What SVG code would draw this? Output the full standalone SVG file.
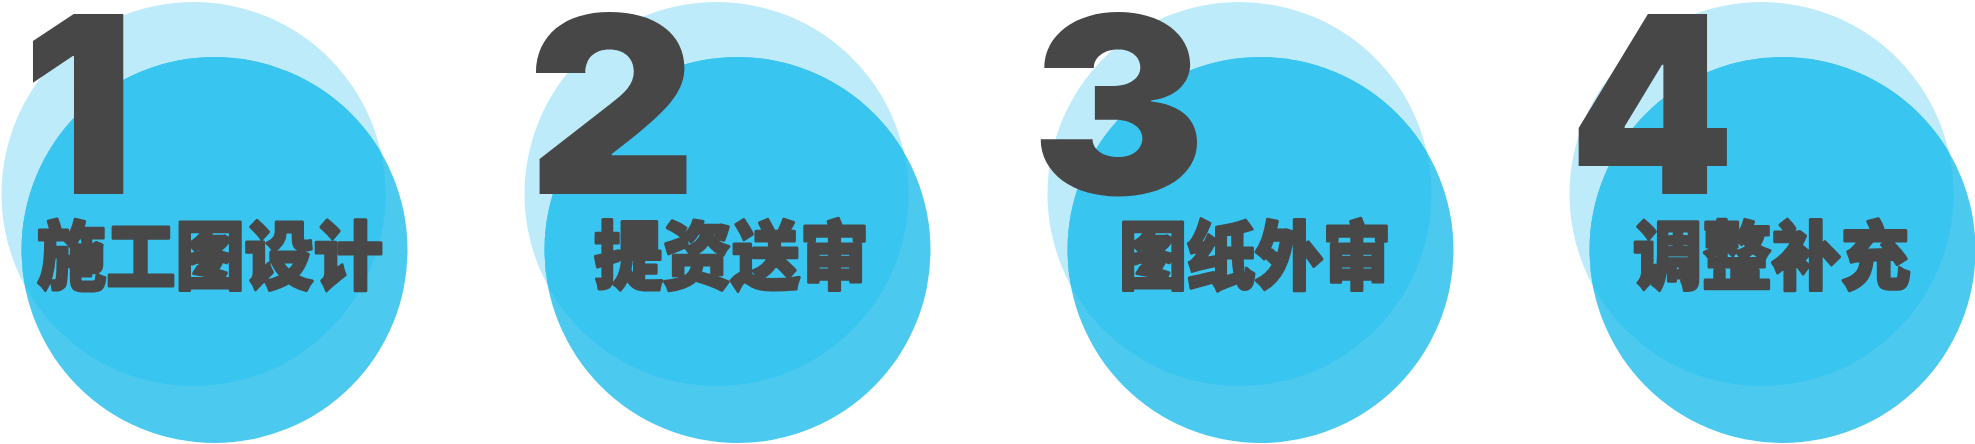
<svg xmlns="http://www.w3.org/2000/svg" width="1975" height="444" viewBox="0 0 1975 444">
<style>
.ca{fill:#BEEBFA}
.cb{fill:#4BC9EF}
.cab{fill:#38C5F0}
.num{font-family:Inter,Roboto,"Liberation Sans",sans-serif;font-weight:900;font-size:247px;fill:#474747}
.lbl{font-family:"Noto Sans CJK SC","Noto Sans CJK JP",sans-serif;font-weight:900;font-size:74px;fill:#484848;stroke:#484848;stroke-width:3;stroke-linejoin:round}
</style>
<defs>
<clipPath id="clipA"><circle cx="193.5" cy="194" r="192"/></clipPath>
<g id="bubble">
<circle class="ca" cx="193.5" cy="194" r="192"/>
<circle class="cb" cx="214.5" cy="250" r="193"/>
<circle class="cab" cx="214.5" cy="250" r="193" clip-path="url(#clipA)"/>
</g>
</defs>
<g id="step1">
<use href="#bubble"/>
<text class="num" x="22" y="194" textLength="113" lengthAdjust="spacingAndGlyphs">1</text>
<text class="lbl" x="37" y="283" textLength="346" lengthAdjust="spacingAndGlyphs">施工图设计</text>
</g>
<g id="step2">
<g transform="translate(523,0)"><use href="#bubble"/></g>
<text class="num" x="527" y="194" textLength="170" lengthAdjust="spacingAndGlyphs">2</text>
<text class="lbl" x="594" y="283" textLength="275" lengthAdjust="spacingAndGlyphs">提资送审</text>
</g>
<g id="step3">
<g transform="translate(1046,0)"><use href="#bubble"/></g>
<text class="num" x="1031" y="194" textLength="175" lengthAdjust="spacingAndGlyphs">3</text>
<text class="lbl" x="1119" y="283" textLength="272" lengthAdjust="spacingAndGlyphs">图纸外审</text>
</g>
<g id="step4">
<g transform="translate(1568,0)"><use href="#bubble"/></g>
<text class="num" x="1569" y="194" textLength="166" lengthAdjust="spacingAndGlyphs">4</text>
<text class="lbl" x="1633" y="283" textLength="277" lengthAdjust="spacingAndGlyphs">调整补充</text>
</g>
<g id="connectors"/>
</svg>
